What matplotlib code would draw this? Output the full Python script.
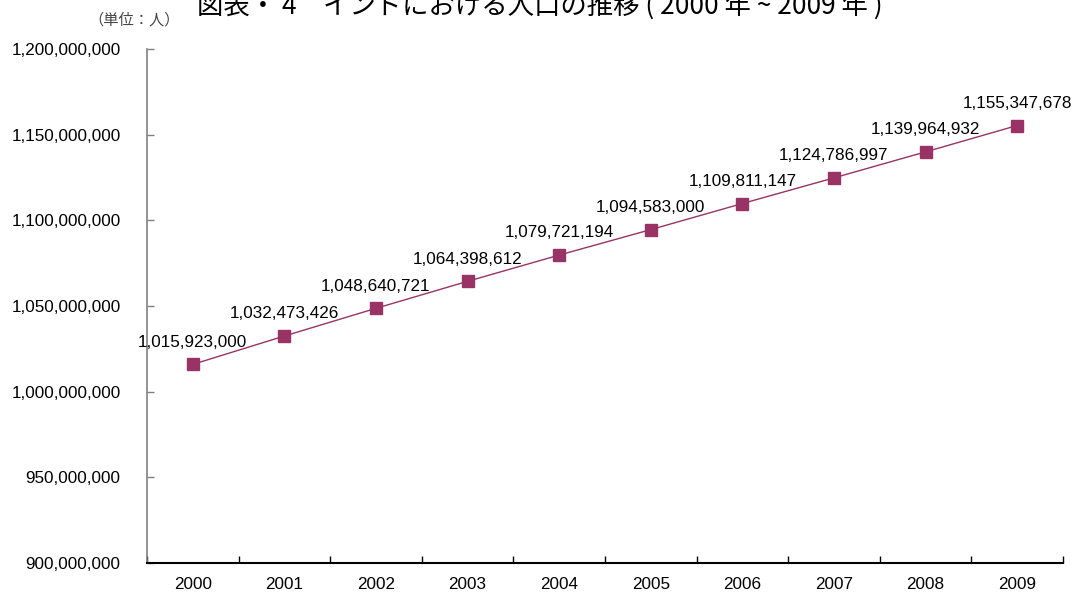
import numpy as np
import matplotlib.pyplot as plt
from matplotlib.ticker import FuncFormatter, FixedLocator

years = ["2000", "2001", "2002", "2003", "2004", "2005", "2006", "2007", "2008", "2009"]
population = [1015923000, 1032473426, 1048640721, 1064398612, 1079721194,
              1094583000, 1109811147, 1124786997, 1139964932, 1155347678]
y_ticks = [900000000, 950000000, 1000000000, 1050000000, 1100000000, 1150000000, 1200000000]

title = "図表・ 4　インドにおける人口の推移 ( 2000 年 ~ 2009 年 )"
unit = "（単位：人）"

plt.rcParams['font.family'] = ['Liberation Sans', 'Noto Sans CJK JP', 'DejaVu Sans']

fig = plt.figure(figsize=(10.75, 5.94), dpi=100)
ax = fig.add_axes([0.1367, 0.0522, 0.8521, 0.8653])

x = np.arange(len(years))
color = "#993366"
ax.plot(x, population, color=color, lw=1, marker="s", markersize=8,
        markerfacecolor=color, markeredgecolor=color)

for xi, v in zip(x, population):
    ax.annotate(f"{v:,}", (xi, v), xytext=(0, 16), textcoords="offset points",
                ha="center", va="center", fontsize=12.3, color="black")

ax.set_xlim(-0.5, len(years) - 0.5)
ax.set_ylim(y_ticks[0], y_ticks[-1])
ax.set_xticks(x)
ax.set_xticklabels(years, fontsize=12.3)
ax.xaxis.set_minor_locator(FixedLocator(np.arange(-0.5, len(years), 1.0)))
ax.tick_params(axis="x", which="major", length=0, pad=10)
ax.tick_params(axis="x", which="minor", direction="in", length=5, width=1, color="black")

ax.set_yticks(y_ticks)
ax.yaxis.set_major_formatter(FuncFormatter(lambda v, p: f"{int(v):,}"))
ax.tick_params(axis="y", direction="in", length=5, width=1, color="#808080", pad=19, labelsize=12.3)

for s in ["top", "right"]:
    ax.spines[s].set_visible(False)
ax.spines["left"].set_color("#808080")
ax.spines["left"].set_linewidth(1.2)
ax.spines["bottom"].set_color("black")
ax.spines["bottom"].set_linewidth(1.5)

fig.text(0.502, 0.99, title, ha="center", va="center", fontsize=19,
         family=['Noto Sans CJK JP', 'DejaVu Sans'])
fig.text(0.082, 0.966, unit, ha="left", va="center", fontsize=11, color="#444444",
         family=['Noto Sans CJK JP', 'DejaVu Sans'])

fig.savefig("out.png", dpi=100)
